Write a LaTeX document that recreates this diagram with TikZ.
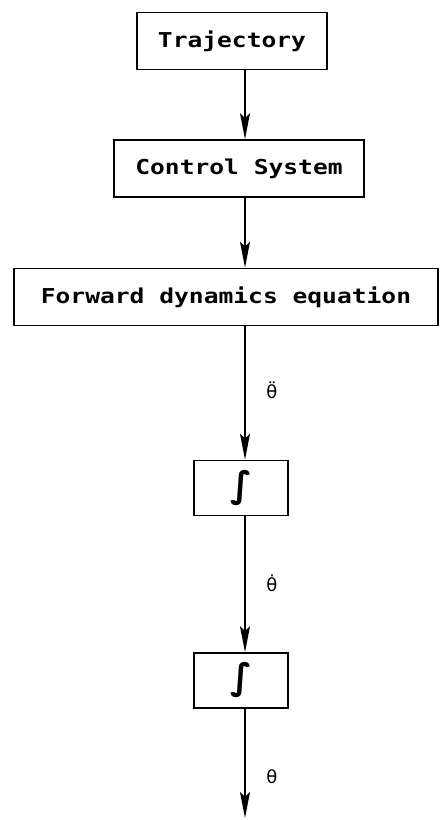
\documentclass[tikz,border=0pt]{standalone}
\usepackage{fontspec}
\newfontfamily\plotfont[FakeStretch=1.2]{DejaVu Sans Mono}
\newfontfamily\symfont{DejaVu Sans}
\usetikzlibrary{arrows.meta}
\begin{document}
\begin{tikzpicture}[x=1pt,y=-1pt,
  box/.style={draw,line width=1.5pt,inner sep=0pt,minimum height=57pt,
    font=\plotfont\bfseries\fontsize{20.5}{24}\selectfont},
  intbox/.style={draw,line width=1.5pt,inner sep=0pt,minimum width=94pt,minimum height=55pt,
    font=\symfont\bfseries\fontsize{36}{40}\selectfont},
  flow/.style={line width=1.4pt,-{Stealth[length=26pt,width=10pt,inset=5pt]}},
  lbl/.style={font=\symfont\fontsize{18}{21}\selectfont}]
\useasboundingbox (0,0) rectangle (441,820);
\coordinate (ax) at (245,0);
\node[box,minimum width=190pt] (traj) at (232,41) {Trajectory};
\node[box,minimum width=250pt] (ctrl) at (239,168.5) {Control System};
\node[box,minimum width=424pt] (fwd) at (226,297) {Forward dynamics equation};
\node[intbox] (int1) at (241,488) {∫};
\node[intbox] (int2) at (241,680.5) {∫};
\coordinate (end) at (245,818);
\draw[flow] (traj.south -| ax) -- (ctrl.north -| ax);
\draw[flow] (ctrl.south -| ax) -- (fwd.north -| ax);
\draw[flow] (fwd.south -| ax) -- (int1.north -| ax);
\draw[flow] (int1.south -| ax) -- (int2.north -| ax);
\draw[flow] (int2.south -| ax) -- (end);
\node[lbl] (l1) at (272,390) {θ̈};
\node[lbl] (l2) at (272,583) {θ̇};
\node[lbl] (l3) at (272,777) {θ};
\end{tikzpicture}
\end{document}
